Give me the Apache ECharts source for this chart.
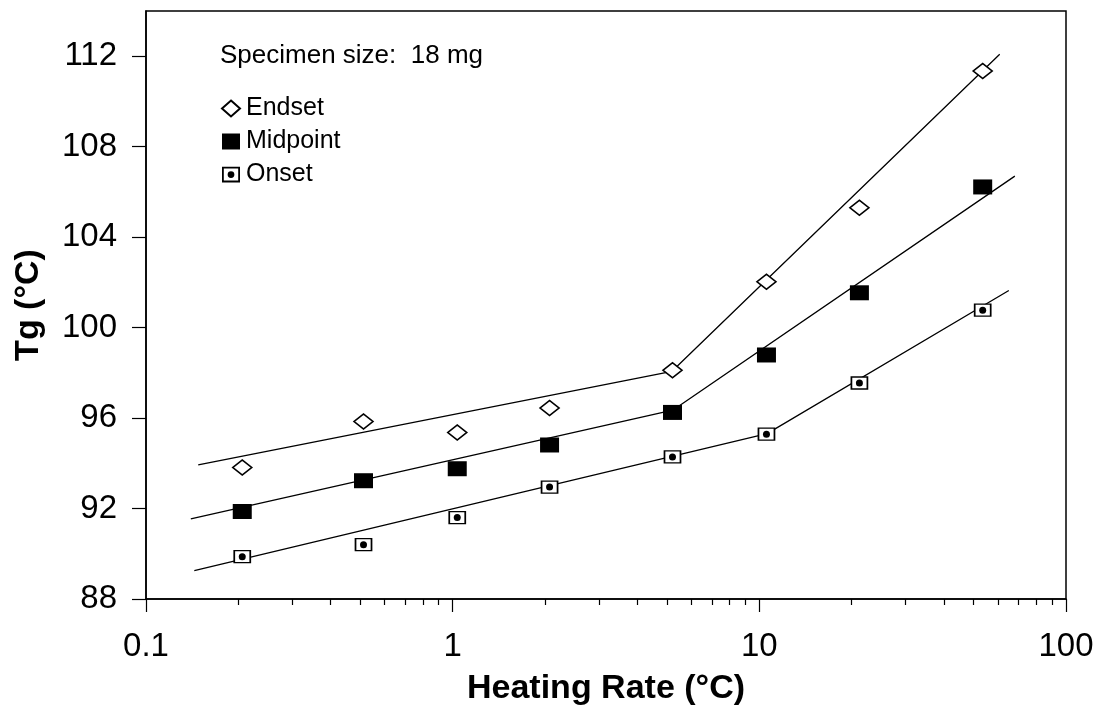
<!DOCTYPE html>
<html>
<head>
<meta charset="utf-8">
<script src="https://cdn.jsdelivr.net/npm/echarts@6/dist/echarts.min.js"></script>
<style>
  html, body { margin: 0; padding: 0; background: #fff; }
  #chart { width: 1098px; height: 709px; }
</style>
</head>
<body>
<div id="chart"></div>
<script>
// Heating rates (°C/min) used for each measurement
const heatingRates = [0.206, 0.512, 1.035, 2.07, 5.21, 10.55, 21.2, 53.5];

// Glass transition temperatures read at each rate
const endsetTg   = [93.81, 95.85, 95.36, 96.45, 98.11, 102.03, 105.30, 111.35];
const midpointTg = [91.87, 93.23, 93.76, 94.81, 96.25, 98.79, 101.54, 106.22];
const onsetTg    = [89.87, 90.40, 91.60, 92.95, 94.28, 95.29, 97.55, 100.77];

// Two-segment regression lines: start, break and end points
const endsetFitX   = [0.148, 5.19, 60.8];
const endsetFitY   = [93.93, 98.07, 112.09];
const midpointFitX = [0.140, 5.22, 68.1];
const midpointFitY = [91.54, 96.35, 106.70];
const onsetFitX    = [0.1437, 10.6, 65.1];
const onsetFitY    = [89.25, 95.31, 101.64];

// Axis ticks
const xMajorTicks = [0.1, 1, 10, 100];
const xMinorTicks = [0.2, 0.3, 0.4, 0.5, 0.6, 0.7, 0.8, 0.9,
                     2, 3, 4, 5, 6, 7, 8, 9,
                     20, 30, 40, 50, 60, 70, 80, 90];
const yTicks = [88, 92, 96, 100, 104, 108, 112];

const seriesNames = ['Endset', 'Midpoint', 'Onset'];
const noteText = 'Specimen size:  18 mg';

const FONT = "'Liberation Sans', Arial, Helvetica, sans-serif";

function pairs(xs, ys) { return xs.map((x, i) => [x, ys[i]]); }

const fitLine = (name, xs, ys) => ({
  name: name,
  type: 'line',
  data: pairs(xs, ys),
  showSymbol: false,
  symbol: 'none',
  silent: true,
  lineStyle: { color: '#000', width: 1.3 },
  z: 2
});

const chart = echarts.init(document.getElementById('chart'), null, { renderer: 'canvas' });

chart.setOption({
  animation: false,
  backgroundColor: '#fff',
  grid: {
    left: 146, right: 32, top: 11, bottom: 110,
    containLabel: false, outerBoundsMode: 'none',
    show: true, borderColor: '#000', borderWidth: 1.5, backgroundColor: 'transparent'
  },
  xAxis: [
    {
      type: 'log', logBase: 10, min: 0.1, max: 100,
      name: 'Heating Rate (°C)', nameLocation: 'middle', nameGap: 73,
      nameTextStyle: { fontFamily: FONT, fontSize: 34, fontWeight: 'bold', color: '#000' },
      axisLine: { show: true, onZero: false, lineStyle: { color: '#000', width: 1.5 } },
      axisTick: { show: true, inside: false, length: 13, customValues: xMajorTicks,
                  lineStyle: { color: '#000', width: 1.2 } },
      axisLabel: { show: true, margin: 31, fontFamily: FONT, fontSize: 33, color: '#000',
                   customValues: xMajorTicks,
                   formatter: v => String(v) },
      splitLine: { show: false },
      minorTick: { show: false }
    },
    {
      type: 'log', logBase: 10, min: 0.1, max: 100, position: 'bottom',
      axisLine: { show: false, onZero: false },
      axisTick: { show: true, inside: false, length: 6, customValues: xMinorTicks,
                  lineStyle: { color: '#000', width: 1.2 } },
      axisLabel: { show: false },
      splitLine: { show: false }
    }
  ],
  yAxis: {
    type: 'value', min: 88, max: 114, interval: 4,
    name: 'Tg (°C)', nameLocation: 'middle', nameGap: 100, nameRotate: 90,
    nameTextStyle: { fontFamily: FONT, fontSize: 34, fontWeight: 'bold', color: '#000' },
    axisLine: { show: true, onZero: false, lineStyle: { color: '#000', width: 1.5 } },
    axisTick: { show: true, inside: false, length: 14, customValues: yTicks,
                lineStyle: { color: '#000', width: 1.2 } },
    axisLabel: { show: true, margin: 29, fontFamily: FONT, fontSize: 33, color: '#000',
                 customValues: yTicks },
    splitLine: { show: false }
  },
  legend: {
    data: [
      { name: seriesNames[0], icon: 'diamond' },
      { name: seriesNames[1], icon: 'rect' },
      { name: seriesNames[2],
        icon: 'path://M0,0H16V14H0Z M1.6,1.6V12.4H14.4V1.6Z M5,7a3,3 0 1,0 6,0a3,3 0 1,0 -6,0Z',
        itemStyle: { color: '#000', borderWidth: 0 } }
    ],
    orient: 'vertical',
    left: 221, top: 96, padding: 0,
    itemWidth: 18, itemHeight: 16, itemGap: 8,
    selectedMode: false,
    textStyle: { fontFamily: FONT, fontSize: 25, color: '#000', lineHeight: 24, padding: [0, 0, 0, 1] }
  },
  graphic: [
    {
      type: 'text', left: 220, top: 43,
      style: { text: noteText, font: '26px ' + FONT, fill: '#000' }
    }
  ],
  series: [
    fitLine('Endset fit', endsetFitX, endsetFitY),
    fitLine('Midpoint fit', midpointFitX, midpointFitY),
    fitLine('Onset fit', onsetFitX, onsetFitY),
    {
      name: seriesNames[0], type: 'scatter',
      data: pairs(heatingRates, endsetTg),
      symbol: 'diamond', symbolSize: [19, 15],
      itemStyle: { color: '#fff', borderColor: '#000', borderWidth: 1.6, opacity: 1 },
      z: 5
    },
    {
      name: seriesNames[1], type: 'scatter',
      data: pairs(heatingRates, midpointTg),
      symbol: 'rect', symbolSize: [19, 15],
      itemStyle: { color: '#000', borderWidth: 0, opacity: 1 },
      z: 5
    },
    {
      name: seriesNames[2], type: 'scatter',
      data: pairs(heatingRates, onsetTg),
      symbol: 'rect', symbolSize: [16, 12],
      itemStyle: { color: '#fff', borderColor: '#000', borderWidth: 1.5, opacity: 1 },
      z: 5
    },
    {
      name: 'Onset centre', type: 'scatter',
      data: pairs(heatingRates, onsetTg),
      symbol: 'circle', symbolSize: 7,
      itemStyle: { color: '#000', borderWidth: 0, opacity: 1 },
      z: 6
    }
  ]
});
</script>
</body>
</html>
